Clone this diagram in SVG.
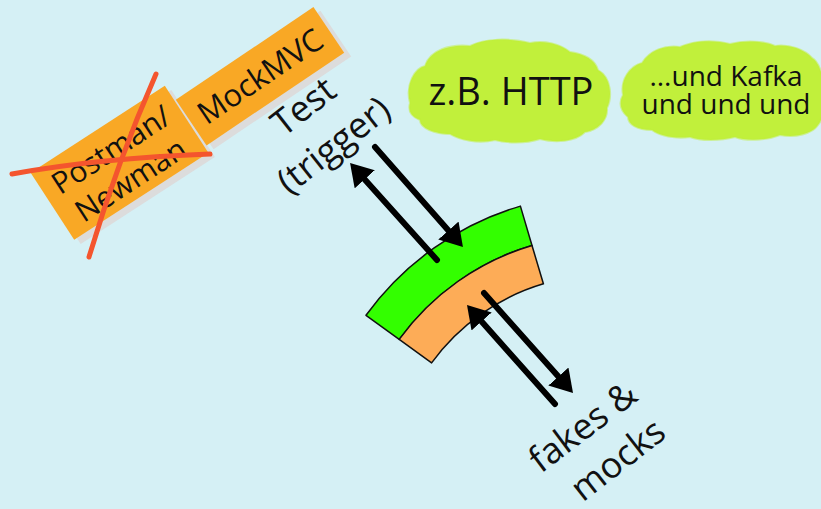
<svg xmlns="http://www.w3.org/2000/svg" width="821" height="509" viewBox="0 0 821 509">
  <style>
    .txt { font-family: "Open Sans", "Noto Sans", "DejaVu Sans", sans-serif; fill: #111; }
    .box { fill: #f9a825; }
    .shadow { fill: #dcdcdc; }
    .cloud { fill: #c1f03b; stroke: #c1f03b; stroke-width: 2; stroke-opacity: 0.5; }
    .arrow { stroke: #000; stroke-width: 6; stroke-linecap: round; fill: none; marker-end: url(#head); }
    .cross { stroke: #f4552e; stroke-width: 5; stroke-linecap: round; fill: none; }
  </style>
  <defs>
    <marker id="head" markerUnits="userSpaceOnUse" viewBox="0 0 22 27" markerWidth="22" markerHeight="27" refX="8" refY="13.5" orient="auto">
      <path d="M0,0 L22,13.5 L0,27 z" fill="#000"/>
    </marker>
  </defs>
  <rect width="821" height="509" fill="#d5f0f5"/>

  <g id="postman">
    <rect class="shadow" x="-80" y="-40" width="160" height="80" transform="translate(126,167) rotate(-33)"/>
    <rect class="box" x="-80" y="-40" width="160" height="80" transform="translate(119.5,162.75) rotate(-33)"/>
    <g transform="translate(119.5,162.75) rotate(-33)">
      <text class="txt" font-size="30" text-anchor="middle" x="0" y="-5">Postman/</text>
      <text class="txt" font-size="30" text-anchor="middle" x="0" y="31">Newman</text>
    </g>
    <path class="cross" d="M156,74 Q118,160 89,257"/>
    <path class="cross" d="M12,174 Q100,158 210,154"/>
  </g>

  <g id="mockmvc">
    <rect class="shadow" x="-83" y="-27.5" width="166" height="55" transform="translate(267,80) rotate(-34)"/>
    <rect class="box" x="-83" y="-27.5" width="166" height="55" transform="translate(260,76.25) rotate(-34)"/>
    <text class="txt" font-size="31" text-anchor="middle" x="0" y="11" transform="translate(260,76.25) rotate(-34)">MockMVC</text>
  </g>

  <g id="test-trigger">
    <text class="txt" font-size="36" text-anchor="middle" x="0" y="13" transform="translate(303,106) rotate(-38)">Test</text>
    <text class="txt" font-size="36" text-anchor="middle" x="0" y="10" transform="translate(335,147) rotate(-38)">(trigger)</text>
  </g>

  <g id="cloud-http">
    <path class="cloud" d="M410,103 C405,85 415,68 425,66 C430,50 450,44 470,46 C485,38 510,38 530,43 C545,40 560,44 570,52 C585,54 595,60 598,70 C612,78 612,98 607,108 C608,120 598,130 585,132 C575,142 555,143 540,139 C525,144 505,143 495,140 C478,144 460,140 450,134 C435,134 420,128 420,120 C410,116 408,110 410,103 Z"/>
    <text class="txt" font-size="38" text-anchor="middle" x="511" y="105">z.B. HTTP</text>
  </g>

  <g id="cloud-kafka">
    <path class="cloud" d="M623,95 C620,80 630,66 642,63 C650,50 665,45 680,47 C695,40 715,40 730,44 C745,40 765,41 775,46 C790,44 805,50 812,58 C825,65 830,110 818,125 C812,134 795,138 780,135 C765,141 745,141 735,137 C720,141 700,141 690,137 C675,139 660,136 652,130 C637,130 628,124 628,117 C620,110 619,102 623,95 Z"/>
    <text class="txt" font-size="28" text-anchor="middle" x="726" y="86">...und Kafka</text>
    <text class="txt" font-size="28" text-anchor="middle" x="726" y="114">und und und</text>
  </g>

  <g id="component">
    <path d="M366,315.3 A294,294 0 0 1 520.4,206.1 L532,245.5 A253,253 0 0 0 399.2,339.4 Z" fill="#33ff00" stroke="#111" stroke-width="1.5" stroke-linejoin="round"/>
    <path d="M399.2,339.4 A253,253 0 0 1 532,245.5 L543.4,283.8 A213,213 0 0 0 431.6,362.9 Z" fill="#fdac57" stroke="#111" stroke-width="1.5" stroke-linejoin="round"/>
  </g>

  <g id="fakes-mocks">
    <text class="txt" font-size="36" text-anchor="middle" x="0" y="12" transform="translate(583,427) rotate(-37)">fakes &amp;</text>
    <text class="txt" font-size="36" text-anchor="middle" x="0" y="12" transform="translate(618,460) rotate(-38)">mocks</text>
  </g>

  <g id="connectors">
    <line class="arrow" x1="437" y1="260" x2="359.4" y2="173.4"/>
    <line class="arrow" x1="375" y1="147" x2="453.7" y2="236.5"/>
    <line class="arrow" x1="555" y1="404" x2="476.3" y2="315.5"/>
    <line class="arrow" x1="484" y1="293" x2="563.7" y2="382.5"/>
  </g>
</svg>
